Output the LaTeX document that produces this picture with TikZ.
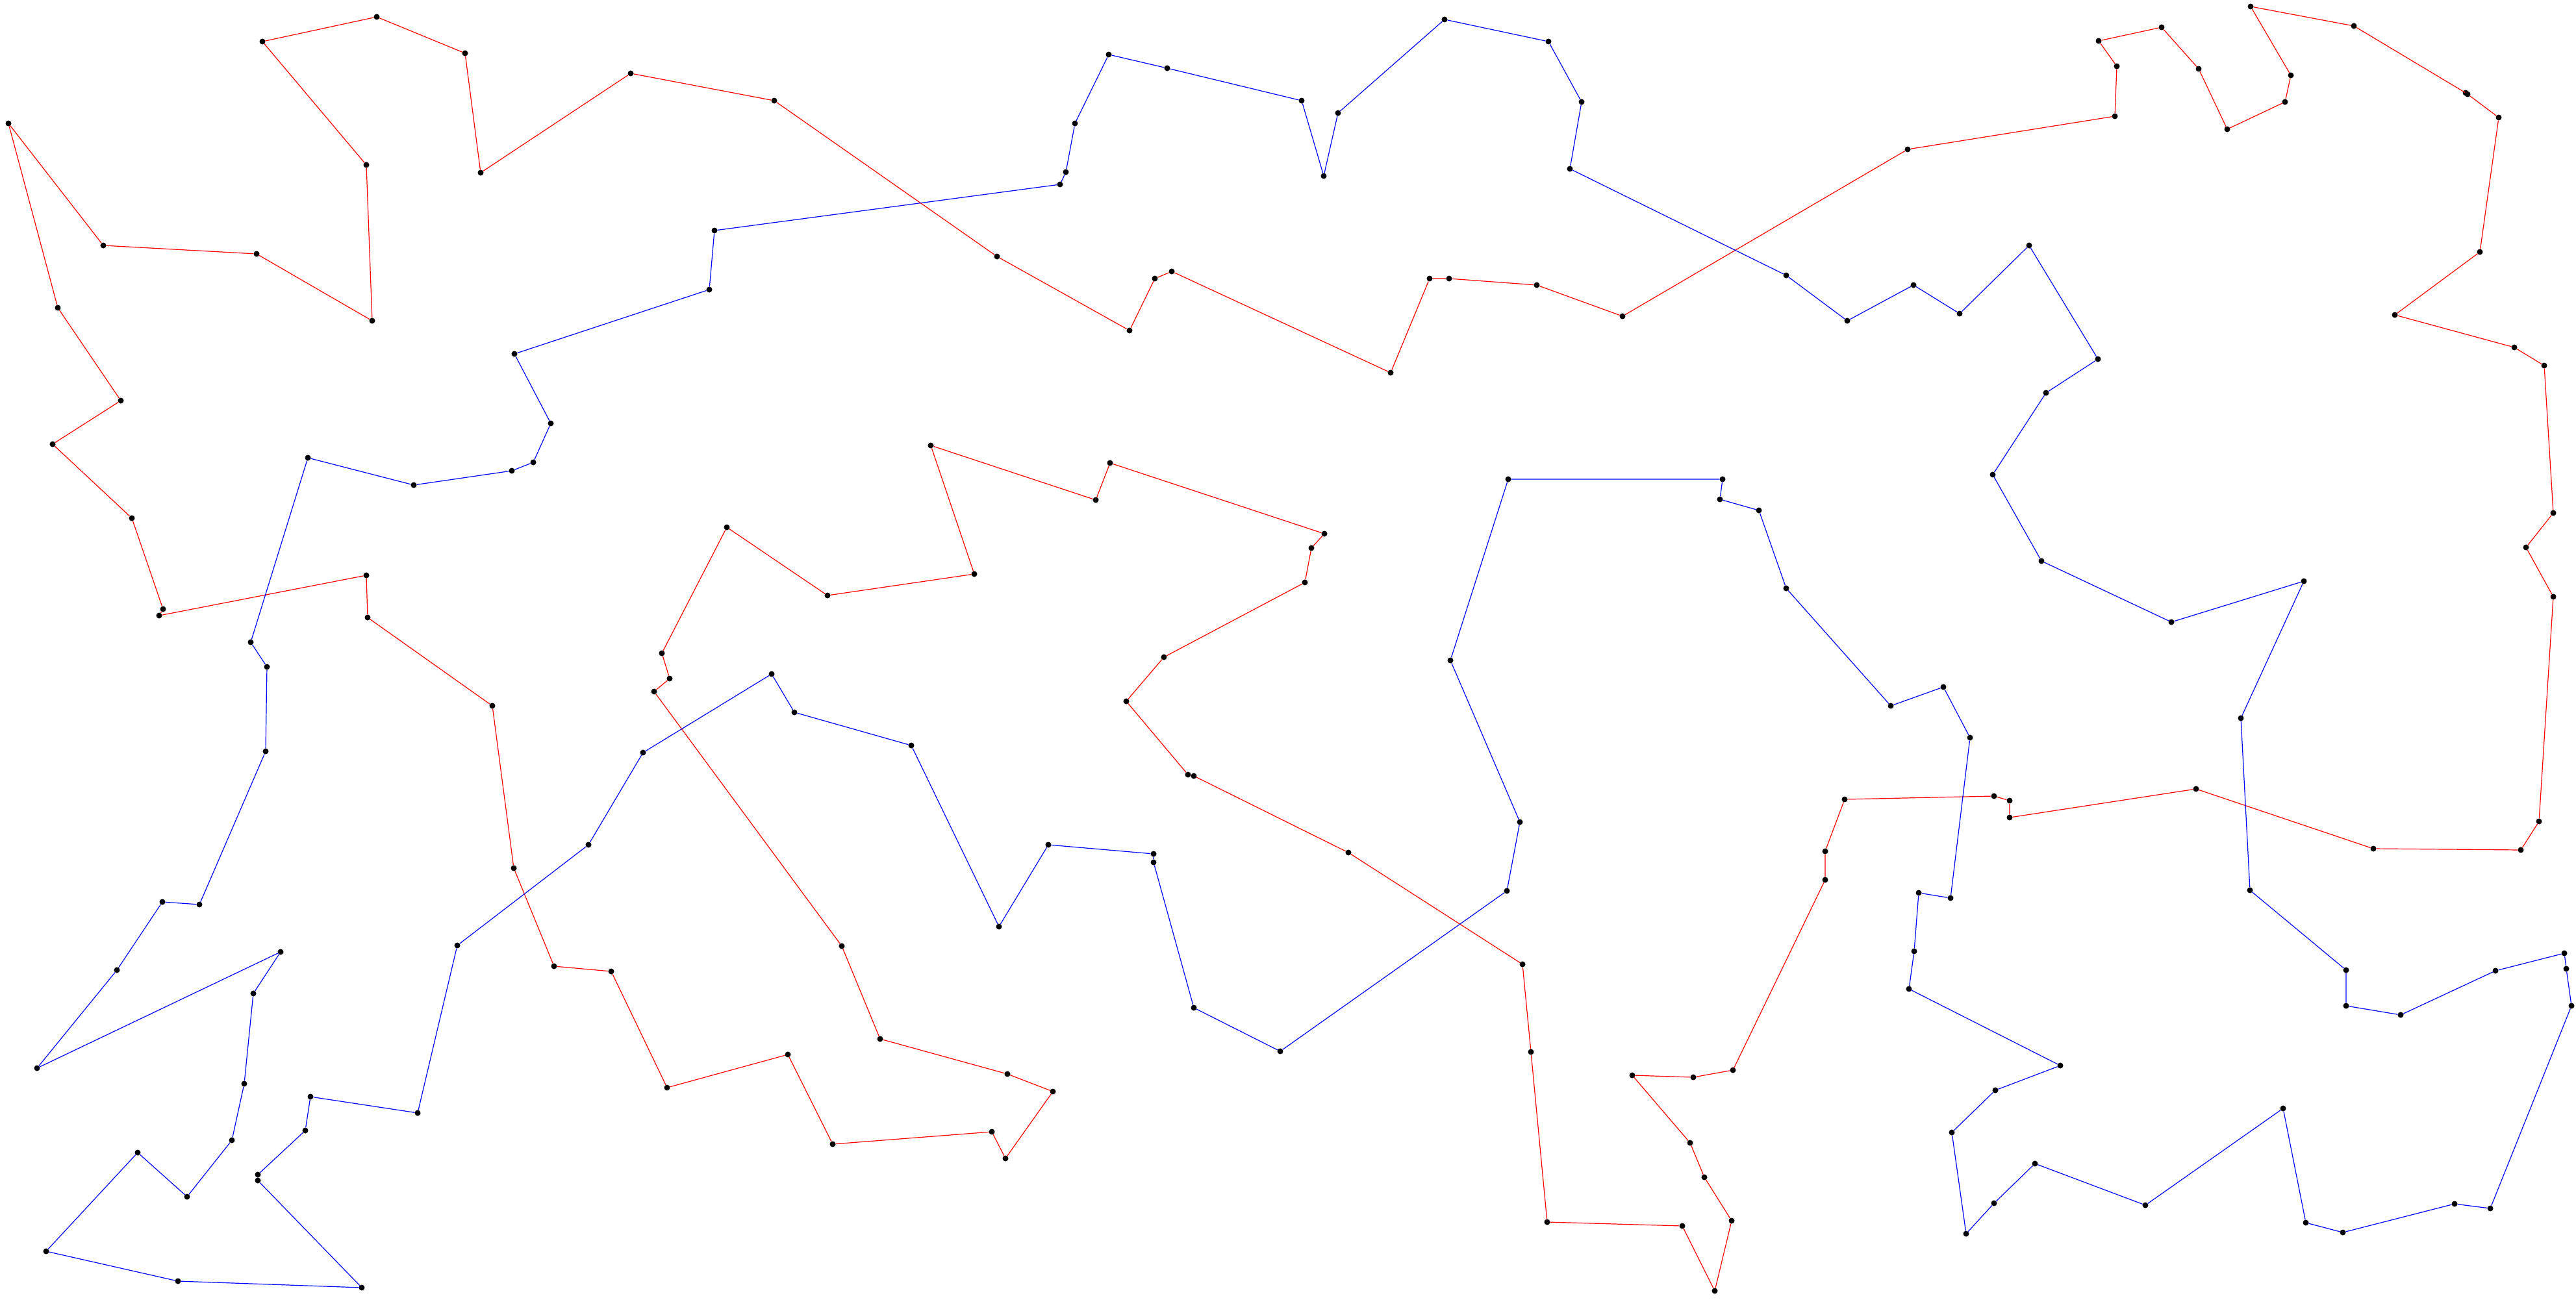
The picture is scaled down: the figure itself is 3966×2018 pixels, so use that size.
\documentclass[tikz,border=0pt]{standalone}
\begin{document}
\begin{tikzpicture}[x=1pt,y=-1pt,
  dot/.style={circle,fill=black,draw=none,inner sep=0pt,minimum size=9pt},
  redline/.style={draw=red,line width=1.2pt},
  blueline/.style={draw=blue,line width=1.2pt}]
\useasboundingbox (0,0) rectangle (3966,2018);
% red tour points
\foreach \n/\x/\y in {
r1/13/190, r2/159/378, r3/395/391, r4/573/494, r5/564/254, r6/404/64, r7/580/26, r8/716/82, r9/740/266, r10/971/113,
r11/1192/155, r12/1535/395, r13/1739/509, r14/1778/429, r15/1804/418, r16/2141/574, r17/2201/429, r18/2231/429, r19/2366/439, r20/2498/487,
r21/2937/230, r22/3256/179, r23/3259/102, r24/3231/63, r25/3328/42, r26/3385/106, r27/3429/199, r28/3518/157, r29/3527/116, r30/3465/10,
r31/3624/40, r32/3796/143, r33/3799/145, r34/3847/181, r35/3818/388, r36/3687/485, r37/3871/535, r38/3917/563, r39/3931/790, r40/3889/843,
r41/3931/919, r42/3909/1265, r43/3881/1309, r44/3654/1307, r45/3381/1215, r46/3094/1259, r47/3094/1233, r48/3070/1226, r49/2840/1231, r50/2810/1311,
r51/2810/1355, r52/2668/1648, r53/2607/1659, r54/2513/1656, r55/2602/1760, r56/2624/1813, r57/2666/1880, r58/2640/1988, r59/2590/1888, r60/2382/1882,
r61/2357/1620, r62/2344/1485, r63/2076/1313, r64/1838/1195, r65/1829/1193, r66/1734/1080, r67/1792/1012, r68/2009/897, r69/2019/844, r70/2039/822,
r71/1709/713, r72/1687/770, r73/1433/686, r74/1500/884, r75/1274/917, r76/1119/812, r77/1019/1006, r78/1031/1045, r79/1007/1065, r80/1296/1457,
r81/1355/1600, r82/1551/1654, r83/1621/1681, r84/1548/1784, r85/1527/1743, r86/1282/1762, r87/1213/1624, r88/1027/1675, r89/941/1496, r90/853/1488,
r91/791/1337, r92/758/1087, r93/566/951, r94/564/886, r95/245/948, r96/251/938, r97/203/798, r98/81/684, r99/186/617, r100/89/474}
  \node[dot] (\n) at (\x,\y) {};
% blue tour points
\foreach \n/\x/\y in {
b1/1707/84, b2/1797/105, b3/2004/155, b4/2038/271, b5/2060/174, b6/2224/30, b7/2384/64, b8/2435/157, b9/2417/260, b10/2750/424,
b11/2844/494, b12/2946/439, b13/3017/483, b14/3124/378, b15/3230/553, b16/3150/605, b17/3068/731, b18/3143/864, b19/3343/958, b20/3547/895,
b21/3450/1106, b22/3464/1371, b23/3612/1494, b24/3612/1549, b25/3696/1563, b26/3842/1495, b27/3948/1468, b28/3951/1492, b29/3959/1549, b30/3834/1861,
b31/3779/1854, b32/3607/1898, b33/3550/1883, b34/3515/1707, b35/3303/1856, b36/3133/1792, b37/3070/1853, b38/3027/1900, b39/3005/1744, b40/3072/1679,
b41/3172/1641, b42/2939/1523, b43/2947/1465, b44/2954/1375, b45/3003/1383, b46/3033/1136, b47/2992/1058, b48/2911/1087, b49/2750/906, b50/2708/786,
b51/2648/769, b52/2652/738, b53/2322/738, b54/2233/1017, b55/2340/1266, b56/2320/1372, b57/1971/1619, b58/1838/1552, b59/1776/1328, b60/1776/1315,
b61/1614/1301, b62/1538/1427, b63/1403/1148, b64/1223/1097, b65/1188/1038, b66/990/1159, b67/906/1301, b68/704/1456, b69/643/1714, b70/478/1689,
b71/470/1741, b72/397/1809, b73/397/1818, b74/557/1983, b75/274/1973, b76/71/1927, b77/212/1775, b78/288/1843, b79/357/1756, b80/376/1669,
b81/390/1530, b82/432/1466, b83/57/1645, b84/180/1494, b85/250/1389, b86/307/1393, b87/409/1157, b88/411/1027, b89/386/989, b90/474/705,
b91/637/747, b92/788/725, b93/821/712, b94/848/652, b95/792/545, b96/1092/446, b97/1100/355, b98/1632/284, b99/1641/265, b100/1655/190}
  \node[dot] (\n) at (\x,\y) {};
% connectors
\draw[redline] (r1) -- (r2) -- (r3) -- (r4) -- (r5) -- (r6) -- (r7) -- (r8) -- (r9) -- (r10)
 -- (r11) -- (r12) -- (r13) -- (r14) -- (r15) -- (r16) -- (r17) -- (r18) -- (r19) -- (r20)
 -- (r21) -- (r22) -- (r23) -- (r24) -- (r25) -- (r26) -- (r27) -- (r28) -- (r29) -- (r30)
 -- (r31) -- (r32) -- (r33) -- (r34) -- (r35) -- (r36) -- (r37) -- (r38) -- (r39) -- (r40)
 -- (r41) -- (r42) -- (r43) -- (r44) -- (r45) -- (r46) -- (r47) -- (r48) -- (r49) -- (r50)
 -- (r51) -- (r52) -- (r53) -- (r54) -- (r55) -- (r56) -- (r57) -- (r58) -- (r59) -- (r60)
 -- (r61) -- (r62) -- (r63) -- (r64) -- (r65) -- (r66) -- (r67) -- (r68) -- (r69) -- (r70)
 -- (r71) -- (r72) -- (r73) -- (r74) -- (r75) -- (r76) -- (r77) -- (r78) -- (r79) -- (r80)
 -- (r81) -- (r82) -- (r83) -- (r84) -- (r85) -- (r86) -- (r87) -- (r88) -- (r89) -- (r90)
 -- (r91) -- (r92) -- (r93) -- (r94) -- (r95) -- (r96) -- (r97) -- (r98) -- (r99) -- (r100) -- (r1);
\draw[blueline] (b1) -- (b2) -- (b3) -- (b4) -- (b5) -- (b6) -- (b7) -- (b8) -- (b9) -- (b10)
 -- (b11) -- (b12) -- (b13) -- (b14) -- (b15) -- (b16) -- (b17) -- (b18) -- (b19) -- (b20)
 -- (b21) -- (b22) -- (b23) -- (b24) -- (b25) -- (b26) -- (b27) -- (b28) -- (b29) -- (b30)
 -- (b31) -- (b32) -- (b33) -- (b34) -- (b35) -- (b36) -- (b37) -- (b38) -- (b39) -- (b40)
 -- (b41) -- (b42) -- (b43) -- (b44) -- (b45) -- (b46) -- (b47) -- (b48) -- (b49) -- (b50)
 -- (b51) -- (b52) -- (b53) -- (b54) -- (b55) -- (b56) -- (b57) -- (b58) -- (b59) -- (b60)
 -- (b61) -- (b62) -- (b63) -- (b64) -- (b65) -- (b66) -- (b67) -- (b68) -- (b69) -- (b70)
 -- (b71) -- (b72) -- (b73) -- (b74) -- (b75) -- (b76) -- (b77) -- (b78) -- (b79) -- (b80)
 -- (b81) -- (b82) -- (b83) -- (b84) -- (b85) -- (b86) -- (b87) -- (b88) -- (b89) -- (b90)
 -- (b91) -- (b92) -- (b93) -- (b94) -- (b95) -- (b96) -- (b97) -- (b98) -- (b99) -- (b100) -- (b1);
\end{tikzpicture}
\end{document}
